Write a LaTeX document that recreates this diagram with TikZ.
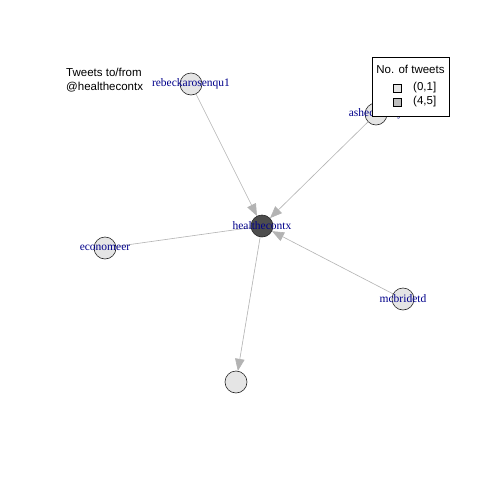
\documentclass[tikz,border=0pt]{standalone}
\usepackage{fontspec}
\setmainfont{Liberation Serif}
\newfontfamily\sansf{Liberation Sans}
\usetikzlibrary{arrows.meta}
\pgfdeclarelayer{edgelayer}
\pgfsetlayers{edgelayer,main}
\definecolor{edgegray}{HTML}{B3B3B3}
\definecolor{lightv}{HTML}{E5E5E5}
\definecolor{darkv}{HTML}{4D4D4D}
\definecolor{midv}{HTML}{BEBEBE}
\definecolor{labblue}{HTML}{00008B}
\tikzset{
  vert/.style={circle,draw=black!85,line width=0.6pt,minimum size=22pt,inner sep=0pt},
  lbl/.style={text=labblue,font=\fontsize{11.5}{12}\selectfont,inner sep=0pt},
  edge/.style={draw=edgegray,line width=0.6pt},
  arr/.style={edge,-{Triangle[length=12pt,width=9.5pt,fill=edgegray,color=edgegray]}},
  legsq/.style={draw=black,line width=0.5pt,minimum size=8pt,inner sep=0pt},
  legtxt/.style={font=\sansf\fontsize{11.5}{12}\selectfont,anchor=west,inner sep=0pt}
}
\begin{document}
\begin{tikzpicture}[x=1pt,y=-1pt]
\begin{pgfonlayer}{edgelayer}
\useasboundingbox[fill=white] (0,0) rectangle (480,480);
\end{pgfonlayer}
% vertices
\node[vert,fill=darkv] (h) at (262,226) {};
\node[vert,fill=lightv] (r) at (191,84) {};
\node[vert,fill=lightv] (a) at (376,114) {};
\node[vert,fill=lightv] (e) at (105,248) {};
\node[vert,fill=lightv] (m) at (403,299) {};
\node[vert,fill=lightv] (u) at (236,382) {};
% edges
\begin{pgfonlayer}{edgelayer}
\path[arr] (r) -- (h);
\path[arr] (a) -- (h);
\path[arr] (m) -- (h);
\path[arr] (h) -- (u);
\path[edge] (e) -- (h);
\end{pgfonlayer}
% labels
\node[lbl] (hl) at (h) {healthecontx};
\node[lbl] (rl) at (r) {rebeckarosenqu1};
\node[lbl] (al) at (a) {asheclarkey};
\node[lbl] (el) at (e) {economeer};
\node[lbl] (ml) at (m) {mcbridetd};
% title
\node[font=\sansf\fontsize{11.5}{13.5}\selectfont,align=left,anchor=north west,inner sep=0pt] (title) at (66,68) {Tweets to/from\\@healthecontx};
% legend
\node[draw=black,fill=white,line width=0.6pt,minimum width=77pt,minimum height=59pt,anchor=north west,inner sep=0pt] (leg) at (372,57) {};
\node[font=\sansf\fontsize{11.5}{12}\selectfont,inner sep=0pt] (legt) at (410.5,69) {No. of tweets};
\node[legsq,fill=lightv] (s1) at (397,88) {};
\node[legsq,fill=midv] (s2) at (397,102) {};
\node[legtxt] (t1) at (413,88) {(0,1]};
\node[legtxt] (t2) at (413,102) {(4,5]};
\end{tikzpicture}
\end{document}
